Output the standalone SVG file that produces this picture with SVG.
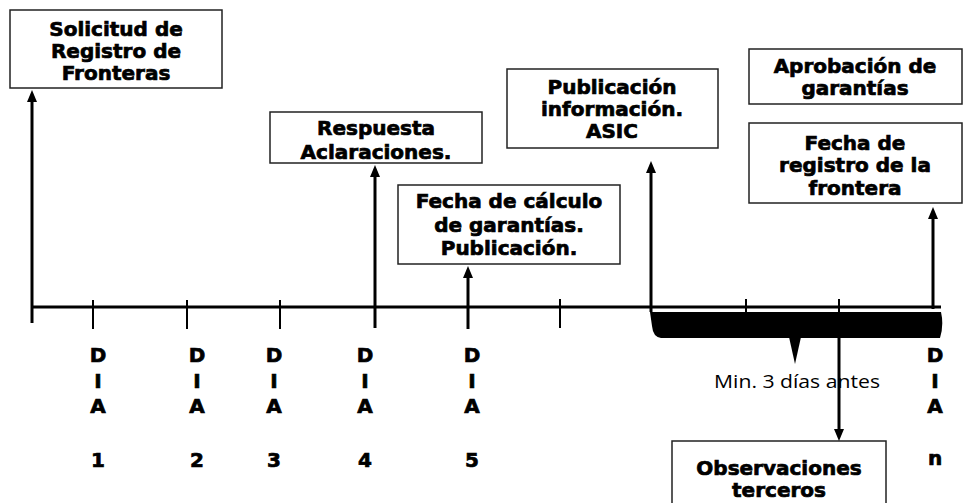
<svg xmlns="http://www.w3.org/2000/svg" width="963" height="503" viewBox="0 0 963 503">
<style>
.box{fill:#fff;stroke:#222;stroke-width:1.5}
.t{font-family:"DejaVu Sans",Verdana,sans-serif;font-weight:bold;font-size:20px;text-anchor:middle;fill:#000;stroke:#000;stroke-width:0.7}
.d{font-family:"DejaVu Sans",Verdana,sans-serif;font-weight:bold;font-size:20px;text-anchor:middle;fill:#000;stroke:#000;stroke-width:0.7}
.m{font-family:"Open Sans","Liberation Sans",sans-serif;font-size:19px;fill:#000}
.ln{stroke:#000;stroke-width:3;fill:none}
.tk{stroke:#000;stroke-width:2;fill:none}
</style>
<defs>
<marker id="ah" viewBox="0 0 12 10" refX="2" refY="5" markerWidth="12" markerHeight="10" markerUnits="userSpaceOnUse" orient="auto">
<path d="M0,0 L12,5 L0,10 z" fill="#000"/>
</marker>
</defs>
<rect width="963" height="503" fill="#fff"/>

<g id="n1">
<rect class="box" x="10" y="10" width="212" height="78"/>
<text class="t" x="116" y="36">Solicitud de</text>
<text class="t" x="116" y="58">Registro de</text>
<text class="t" x="116" y="80">Fronteras</text>
</g>
<g id="n2">
<rect class="box" x="270" y="112" width="212" height="51"/>
<text class="t" x="376" y="135">Respuesta</text>
<text class="t" x="376" y="159">Aclaraciones.</text>
</g>
<g id="n3">
<rect class="box" x="398" y="185" width="222" height="79"/>
<text class="t" x="509" y="208">Fecha de cálculo</text>
<text class="t" x="509" y="232">de garantías.</text>
<text class="t" x="509" y="255">Publicación.</text>
</g>
<g id="n4">
<rect class="box" x="507" y="69" width="211" height="79"/>
<text class="t" x="612" y="94">Publicación</text>
<text class="t" x="612" y="116">información.</text>
<text class="t" x="612" y="138">ASIC</text>
</g>
<g id="n5">
<rect class="box" x="749" y="49" width="213" height="55"/>
<text class="t" x="855" y="73">Aprobación de</text>
<text class="t" x="855" y="95">garantías</text>
</g>
<g id="n6">
<rect class="box" x="749" y="123" width="213" height="80"/>
<text class="t" x="855" y="150">Fecha de</text>
<text class="t" x="855" y="172">registro de la</text>
<text class="t" x="855" y="195">frontera</text>
</g>
<g id="n7">
<rect class="box" x="672" y="441" width="214" height="75"/>
<text class="t" x="779" y="475">Observaciones</text>
<text class="t" x="779" y="497">terceros</text>
</g>

<g id="timeline">
<line class="ln" x1="31" y1="307" x2="941" y2="307"/>
<line class="tk" x1="93" y1="300" x2="93" y2="329"/>
<line class="tk" x1="187" y1="300" x2="187" y2="329"/>
<line class="tk" x1="280" y1="300" x2="280" y2="329"/>
<line class="tk" x1="560" y1="299" x2="560" y2="328"/>
<line class="tk" x1="746" y1="299" x2="746" y2="313"/>
<line class="tk" x1="839" y1="299" x2="839" y2="313"/>
<path d="M650,312 L941,312 Q944,325 940,338 L661,338 Q653,337 652,326 Z" fill="#000"/>
<polygon points="789,337 801,337 795,364" fill="#000"/>
<text class="m" x="714" y="388" textLength="166" lengthAdjust="spacingAndGlyphs">Min. 3 días antes</text>
</g>

<g id="connectors">
<line class="ln" x1="32" y1="323" x2="32" y2="100" marker-end="url(#ah)"/>
<line class="ln" x1="375" y1="328" x2="375" y2="175" stroke-width="4" marker-end="url(#ah)"/>
<line class="ln" x1="468" y1="329" x2="468" y2="276" marker-end="url(#ah)"/>
<line class="ln" x1="651" y1="312" x2="651" y2="171" marker-end="url(#ah)"/>
<line class="ln" x1="933" y1="309" x2="933" y2="217" marker-end="url(#ah)"/>
<line class="ln" x1="839" y1="336" x2="839" y2="431" marker-end="url(#ah)"/>
</g>

<g id="days">
<text class="d" x="98" y="362">D</text><text class="d" x="98" y="388">I</text><text class="d" x="98" y="413">A</text><text class="d" x="98" y="467">1</text>
<text class="d" x="197" y="362">D</text><text class="d" x="197" y="388">I</text><text class="d" x="197" y="413">A</text><text class="d" x="197" y="467">2</text>
<text class="d" x="274" y="362">D</text><text class="d" x="274" y="388">I</text><text class="d" x="274" y="413">A</text><text class="d" x="274" y="467">3</text>
<text class="d" x="365" y="362">D</text><text class="d" x="365" y="388">I</text><text class="d" x="365" y="413">A</text><text class="d" x="365" y="467">4</text>
<text class="d" x="472" y="362">D</text><text class="d" x="472" y="388">I</text><text class="d" x="472" y="413">A</text><text class="d" x="472" y="467">5</text>
<text class="d" x="935" y="362">D</text><text class="d" x="935" y="388">I</text><text class="d" x="935" y="413">A</text><text class="d" x="935" y="465">n</text>
</g>
</svg>
